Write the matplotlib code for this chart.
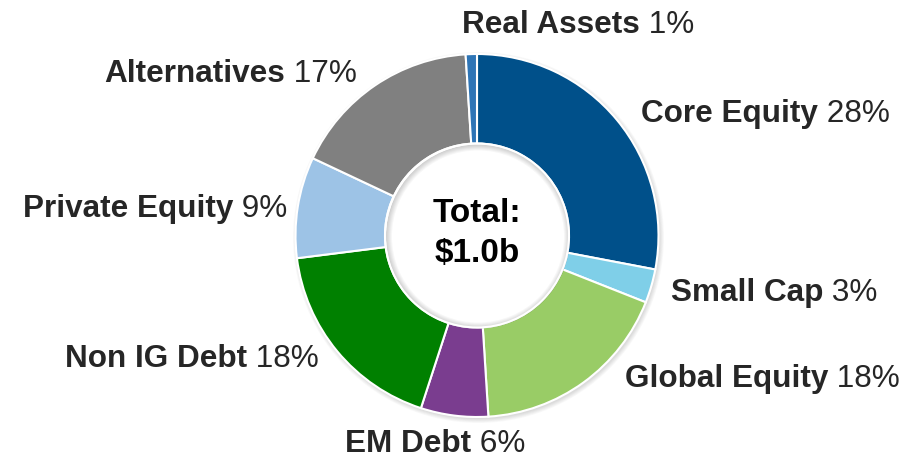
import matplotlib.pyplot as plt
from matplotlib.patches import Circle, Wedge

# data
categories = ['Core Equity', 'Small Cap', 'Global Equity', 'EM Debt',
              'Non IG Debt', 'Private Equity', 'Alternatives', 'Real Assets']
shares = [28, 3, 18, 6, 18, 9, 17, 1]
colors = ['#00508A', '#7FCFE8', '#99CC66', '#7A3D8F',
          '#008000', '#9DC3E6', '#808080', '#2E75B6']
center_lines = ['Total:', '$1.0b']

# layout (pixels from top-left)
W, H = 910, 458
cx, cy = 477, 235.5
r_out, r_in = 181.5, 92
label_pos = {
    'Core Equity': (641, 122),
    'Small Cap': (671, 301),
    'Global Equity': (625, 387),
    'EM Debt': (345, 452),
    'Non IG Debt': (65, 367),
    'Private Equity': (23, 217),
    'Alternatives': (104, 82),
    'Real Assets': (462, 33),
}
center_baselines = [222, 262]

plt.rcParams['font.family'] = ['Liberation Sans', 'DejaVu Sans']
fs = 22.7
txt_color = '#262626'

fig = plt.figure(figsize=(W / 100, H / 100), dpi=100)
ax = fig.add_axes([0, 0, 1, 1])

c = (cx, H - cy)

# soft drop shadow behind the ring
for k in range(6):
    ax.add_patch(Circle((cx + 1.5, H - cy - 2), r_out + 4 - k * 0.8,
                        color='black', alpha=0.025, lw=0, zorder=0))

ax.pie(shares, colors=colors, startangle=90, counterclock=False,
       radius=r_out, center=c,
       wedgeprops=dict(width=r_out - r_in, edgecolor='white', linewidth=1.5))

# white hole with a faint inner shadow
ax.add_patch(Circle(c, r_in, color='white', lw=0, zorder=2))
for k in range(6):
    ax.add_patch(Wedge((cx + 1, H - cy - 1), r_in, 0, 360, width=1 + k * 1.0,
                       color='black', alpha=0.03, lw=0, zorder=3))
ax.add_patch(Circle(c, r_in, fill=False, edgecolor='white', lw=1.5, zorder=4))

for name, pct in zip(categories, shares):
    x, y = label_pos[name]
    t = ax.text(x, H - y, name, fontsize=fs, fontweight='bold',
                color=txt_color, ha='left', va='baseline')
    ax.annotate(f' {pct}%', xy=(1, 0), xycoords=t, fontsize=fs,
                color=txt_color, ha='left', va='bottom')

for line, by in zip(center_lines, center_baselines):
    ax.text(cx, H - by, line, fontsize=24, fontweight='bold',
            color='black', ha='center', va='baseline', zorder=5)

ax.set_xlim(0, W)
ax.set_ylim(0, H)
ax.set_aspect('equal')
ax.axis('off')

fig.savefig('out.png', dpi=100)
